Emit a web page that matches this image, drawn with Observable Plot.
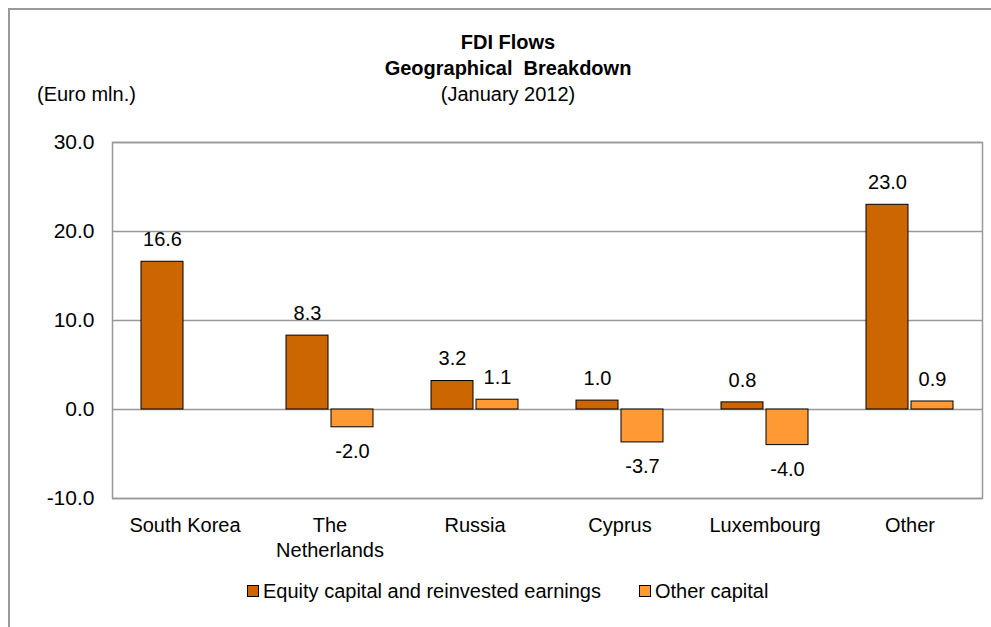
<!DOCTYPE html>
<html>
<head>
<meta charset="utf-8">
<script src="https://cdn.jsdelivr.net/npm/d3@7"></script>
<script src="https://cdn.jsdelivr.net/npm/@observablehq/plot@0.6"></script>
<style>
  html, body { margin: 0; padding: 0; background: #fff; overflow: hidden; }
  #wrap { position: relative; width: 991px; height: 627px; overflow: hidden;
          font-family: "Liberation Sans", Arial, sans-serif; color: #000; }
  #outer { position: absolute; left: 8px; top: 8px; width: 1000px; height: 700px;
           border: 2px solid #999; box-sizing: border-box; }
  #title { position: absolute; left: 258px; width: 500px; top: 29px; text-align: center;
           font-size: 20px; line-height: 26px; }
  #title .b { font-weight: bold; }
  #unit { position: absolute; left: 37px; top: 81px; font-size: 20px; line-height: 26px; }
  #chart { position: absolute; left: 0; top: 100px; }
  #legend { position: absolute; top: 578px; left: 247px; font-size: 20px; line-height: 26px;
            display: flex; align-items: center; }
  .item { display: flex; align-items: center; }
  .sw { width: 10px; height: 10px; border: 1px solid #000; margin-right: 4px; }
</style>
</head>
<body>
<div id="wrap">
  <div id="outer"></div>
  <div id="title">
    <div class="b">FDI Flows</div>
    <div class="b">Geographical&nbsp; Breakdown</div>
    <div>(January 2012)</div>
  </div>
  <div id="unit">(Euro mln.)</div>
  <div id="chart"></div>
  <div id="legend"></div>
</div>
<script>
const categories = ["South Korea", "The\nNetherlands", "Russia", "Cyprus", "Luxembourg", "Other"];
const seriesNames = ["Equity capital and reinvested earnings", "Other capital"];
const equity = [16.6, 8.3, 3.2, 1.0, 0.8, 23.0];
const otherCapital = [null, -2.0, 1.1, -3.7, -4.0, 0.9];
const yTicks = [30, 20, 10, 0, -10];
const colors = ["#CC6600", "#FF9933"];

const rows = [];
categories.forEach((c, i) => {
  [equity[i], otherCapital[i]].forEach((v, j) => {
    if (v !== null) rows.push({category: c, series: seriesNames[j], value: v});
  });
});

const chart = Plot.plot({
  width: 991,
  height: 470,
  marginLeft: 109,
  marginRight: 7,
  marginTop: 42,
  marginBottom: 72,
  style: {fontFamily: "'Liberation Sans', Arial, sans-serif", fontSize: "20px", color: "#000", background: "transparent"},
  fx: {domain: categories, padding: 0},
  x: {domain: seriesNames, paddingInner: 0.06, paddingOuter: 0.63, axis: null},
  y: {domain: [-10, 30]},
  color: {domain: seriesNames, range: colors},
  marks: [
    Plot.ruleY(yTicks, {stroke: "#999", strokeWidth: 1.5}),
    Plot.frame({facet: "super", stroke: "#999", strokeWidth: 1.5}),
    Plot.barY(rows, {fx: "category", x: "series", y: "value", fill: "series", stroke: "#000", strokeWidth: 1}),
    Plot.text(rows.filter(d => d.value >= 0), {fx: "category", x: "series", y: "value", text: d => d.value.toFixed(1), dy: -22, fontSize: 20, fill: "#000"}),
    Plot.text(rows.filter(d => d.value < 0), {fx: "category", x: "series", y: "value", text: d => d.value.toFixed(1), dy: 24, fontSize: 20, fill: "#000"}),
    Plot.axisY({ticks: yTicks, tickFormat: d => d.toFixed(1), tickSize: 0, tickPadding: 18, fontSize: 21, label: null}),
    Plot.axisFx({anchor: "bottom", tickSize: 0, tickPadding: 16, fontSize: 20, lineHeight: 1.25, label: null})
  ]
});
document.getElementById("chart").appendChild(chart);

const legend = document.getElementById("legend");
seriesNames.forEach((s, i) => {
  const item = document.createElement("div");
  item.className = "item";
  if (i > 0) item.style.marginLeft = "38px";
  const sw = document.createElement("div");
  sw.className = "sw";
  sw.style.background = colors[i];
  const t = document.createElement("span");
  t.textContent = s;
  item.appendChild(sw);
  item.appendChild(t);
  legend.appendChild(item);
});
</script>
</body>
</html>
